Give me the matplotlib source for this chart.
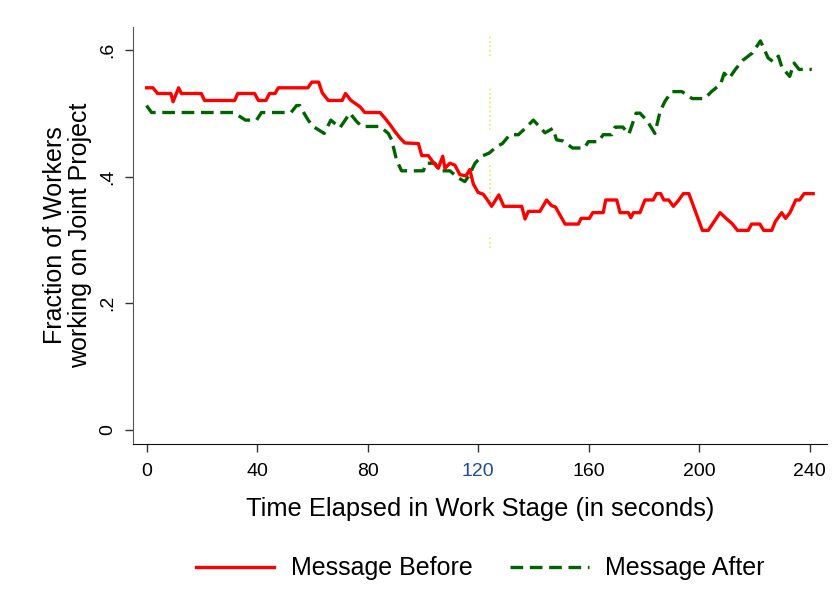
import matplotlib
matplotlib.use("Agg")
import matplotlib.pyplot as plt

plt.rcParams['font.family'] = ['Liberation Sans', 'DejaVu Sans']

# Message Before (red) - breakpoints
before_t = [0, 2.3, 4, 8.8, 9.6, 11.6, 12.6, 19.8, 21, 31.9, 33, 39.1, 40.5, 43.2, 44.5,
            46.5, 47.7, 58.4, 59.8, 62.3, 63.6, 65.8, 70.8, 72, 74, 77.3, 79, 84.5, 86.3,
            88.1, 89.9, 91.7, 93.5, 98.4, 99.6, 102, 104, 105.6, 107.2, 108, 109.8, 111.6,
            113.4, 115.6, 117, 118.3, 120, 121.9, 123.7, 124.9, 127.5, 129.3, 135.8, 137,
            138.2, 142.4, 144.8, 146.6, 148, 151.5, 156.3, 157.3, 160.3, 161.5, 165.3, 166.2,
            170.2, 171.4, 174.4, 175.3, 176.2, 178.6, 180.4, 183.4, 184.6, 186.1, 187.2, 189,
            190.7, 192.5, 194.3, 196.3, 201.2, 203.3, 205, 207.6, 210, 211.9, 213.9, 217.8,
            219, 222, 223.4, 226.3, 227.6, 229.9, 231.3, 232.9, 235, 236.4, 238, 241.3]
before_v = [0.540, 0.540, 0.531, 0.531, 0.518, 0.540, 0.531, 0.531, 0.520, 0.520, 0.531, 0.531,
            0.520, 0.520, 0.531, 0.531, 0.540, 0.540, 0.549, 0.549, 0.532, 0.520, 0.520, 0.531,
            0.520, 0.510, 0.501, 0.501, 0.492, 0.482, 0.471, 0.461, 0.453, 0.452, 0.433, 0.433,
            0.421, 0.413, 0.432, 0.413, 0.421, 0.418, 0.403, 0.401, 0.411, 0.388, 0.375, 0.372,
            0.361, 0.353, 0.371, 0.353, 0.353, 0.333, 0.345, 0.345, 0.363, 0.354, 0.352, 0.325,
            0.325, 0.334, 0.334, 0.343, 0.343, 0.363, 0.363, 0.343, 0.343, 0.335, 0.343, 0.343,
            0.363, 0.363, 0.373, 0.373, 0.363, 0.363, 0.353, 0.362, 0.373, 0.373, 0.315, 0.315,
            0.326, 0.343, 0.333, 0.326, 0.315, 0.315, 0.325, 0.325, 0.315, 0.315, 0.329, 0.343,
            0.334, 0.343, 0.363, 0.363, 0.373, 0.373]

# Message After (green)
after_t = [0, 1.8, 31.5, 35.8, 39.8, 41.6, 52.3, 54.3, 55.5, 57, 58.5, 60.3, 64.3, 66.7, 70,
           73.6, 76, 77.9, 84.5, 87.5, 88.7, 90.5, 92.3, 100.2, 101.2, 104.4, 105.9, 109.8,
           112.8, 115.2, 116.5, 118.9, 121.3, 124, 126.7, 128.8, 131.5, 134.6, 137.3, 140,
           142.4, 144.2, 147.1, 148.4, 150.8, 154.2, 158.5, 159.9, 163.5, 165.3, 168.4, 169.6,
           172.4, 174.6, 177.2, 178.6, 181.2, 184, 185.9, 187.7, 190.1, 193.8, 195.5, 197.5,
           202, 204.5, 207.8, 209.1, 210.9, 213.3, 216, 219.3, 222.2, 225, 226.9, 228.7, 230,
           232.8, 234.4, 236.2, 240.8]
after_v = [0.512, 0.501, 0.501, 0.489, 0.489, 0.501, 0.501, 0.512, 0.512, 0.500, 0.489, 0.479,
           0.468, 0.489, 0.477, 0.500, 0.487, 0.479, 0.479, 0.468, 0.458, 0.426, 0.409, 0.409,
           0.421, 0.421, 0.409, 0.409, 0.398, 0.392, 0.400, 0.421, 0.432, 0.437, 0.447, 0.452,
           0.466, 0.466, 0.477, 0.489, 0.478, 0.469, 0.476, 0.458, 0.456, 0.445, 0.445, 0.455,
           0.455, 0.466, 0.466, 0.478, 0.478, 0.467, 0.500, 0.500, 0.488, 0.468, 0.503, 0.519,
           0.534, 0.534, 0.529, 0.523, 0.523, 0.534, 0.546, 0.563, 0.555, 0.570, 0.584, 0.595,
           0.614, 0.587, 0.581, 0.590, 0.572, 0.558, 0.579, 0.569, 0.569]

x_ticks = [0, 40, 80, 120, 160, 200, 240]
y_ticks = [0, 0.2, 0.4, 0.6]
y_tick_labels = ['0', '.2', '.4', '.6']

# message time marker (dotted yellow reference line)
msg_time = 124.3
msg_segments = [(0.590, 0.624), (0.473, 0.539), (0.366, 0.421), (0.288, 0.306)]

fig = plt.figure(figsize=(8.34, 6.14), dpi=100)
ax = fig.add_axes([0.1595, 0.2769, 0.8321, 0.6792])

for lo, hi in msg_segments:
    ax.vlines(msg_time, lo, hi, colors='#f2e35a', linestyles=':', linewidth=1.2, zorder=1)

ax.plot(before_t, before_v, color='#ff0000', linewidth=2.4, label='Message Before', zorder=3)
ax.plot(after_t, after_v, color='#006400', linewidth=2.4, dashes=(3.8, 2.0),
        label='Message After', zorder=2)

ax.set_xlim(-4.9, 246.3)
ax.set_ylim(-0.022, 0.636)

ax.set_xticks(x_ticks)
ax.set_yticks(y_ticks)
ax.set_yticklabels(y_tick_labels, rotation=90, va='center')
ax.tick_params(axis='both', labelsize=14, length=6, width=1, color='#333333', pad=6)
ax.tick_params(axis='x', pad=8)
ax.get_xticklabels()[3].set_color('#1f4e9a')

for s in ['top', 'right']:
    ax.spines[s].set_visible(False)
ax.spines['left'].set_color('#555555')
ax.spines['bottom'].set_color('#111111')

ax.set_xlabel('Time Elapsed in Work Stage (in seconds)', fontsize=18.4, labelpad=12)
ax.set_ylabel('Fraction of Workers\nworking on Joint Project', fontsize=18, labelpad=5,
              linespacing=1.05)

ax.legend(loc='center', bbox_to_anchor=(0.5, -0.298), ncol=2, frameon=False,
          fontsize=18, handlelength=3.15, handletextpad=0.65, columnspacing=1.5)

fig.savefig('out.png', dpi=100)
